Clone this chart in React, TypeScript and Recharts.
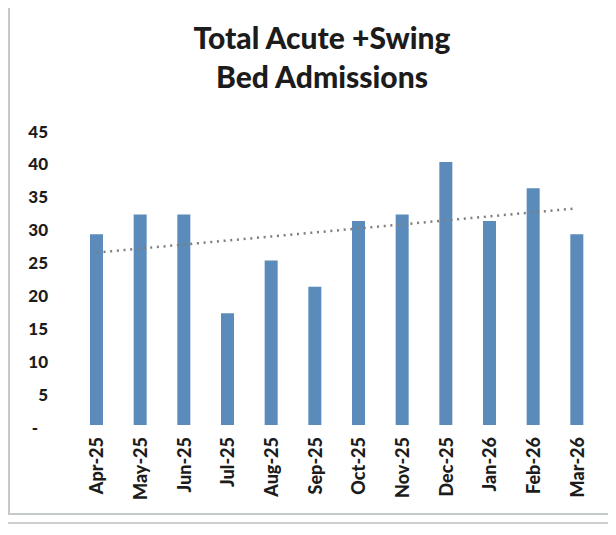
import { ComposedChart, Bar, Line, XAxis, YAxis } from "recharts";

const months = ["Apr-25", "May-25", "Jun-25", "Jul-25", "Aug-25", "Sep-25", "Oct-25", "Nov-25", "Dec-25", "Jan-26", "Feb-26", "Mar-26"];
const admissions = [29, 32, 32, 17, 25, 21, 31, 32, 40, 31, 36, 29];
const yTicks = [0, 5, 10, 15, 20, 25, 30, 35, 40, 45];

// linear trendline fitted to the admissions (like Excel's trendline)
const n = admissions.length;
const meanX = (n - 1) / 2;
const meanY = admissions.reduce((a, b) => a + b, 0) / n;
let sxy = 0;
let sxx = 0;
admissions.forEach((v, i) => {
  sxy += (i - meanX) * (v - meanY);
  sxx += (i - meanX) * (i - meanX);
});
const slope = sxy / sxx;

const data = months.map((m, i) => ({
  month: m,
  value: admissions[i],
  trend: meanY + slope * (i - meanX),
}));

const FONT = "Lato, 'Open Sans', sans-serif";

function YTick({ y, payload }: any) {
  const zero = payload.value === 0;
  return (
    <text
      x={zero ? 38 : 48}
      y={y + 2}
      textAnchor="end"
      dominantBaseline="central"
      fontFamily={FONT}
      fontWeight={900}
      fontSize={17}
      fill="#1c1c1c"
    >
      {zero ? "-" : payload.value}
    </text>
  );
}

function XTick({ x, y, payload }: any) {
  return (
    <g transform={`translate(${x},${y})`}>
      <text
        transform="rotate(-90)"
        x={-12}
        dy="0.36em"
        textAnchor="end"
        fontFamily={FONT}
        fontWeight={900}
        fontSize={18}
        fill="#1c1c1c"
      >
        {payload.value}
      </text>
    </g>
  );
}

export default function App() {
  return (
    <div style={{ position: "relative", width: 616, height: 535, marginTop: -8, marginLeft: -8, background: "#fff", overflow: "hidden" }}>
      <div style={{ position: "absolute", left: 8, top: 2, width: 640, height: 510, borderLeft: "2px solid #c4c9c9", borderTop: "1px solid #e2e4e4", borderBottom: "2px solid #c4c9c9" }} />
      <div style={{ position: "absolute", left: 0, top: 522, width: 616, height: 0, borderTop: "2px solid #ccd0d0" }} />
      <div
        style={{
          position: "absolute",
          left: 0,
          top: 18,
          width: 644,
          textAlign: "center",
          fontFamily: FONT,
          fontWeight: 900,
          fontSize: 30,
          lineHeight: "39px",
          color: "#1c1c1c",
        }}
      >
        Total Acute +Swing
        <br />
        Bed Admissions
      </div>
      <div style={{ position: "absolute", left: 0, top: 0 }}>
        <ComposedChart width={616} height={535} data={data} margin={{ top: 129, right: 17, left: 0, bottom: 10 }}>
          <XAxis
            dataKey="month"
            axisLine={false}
            tickLine={false}
            tickSize={0}
            tickMargin={0}
            interval={0}
            height={100}
            tick={<XTick />}
          />
          <YAxis
            domain={[0, 45]}
            ticks={yTicks}
            axisLine={false}
            tickLine={false}
            width={75}
            tick={<YTick />}
          />
          <Bar dataKey="value" fill="#5a8bbb" barSize={13} isAnimationActive={false} />
          <Line
            dataKey="trend"
            type="linear"
            stroke="#7e7e7e"
            strokeWidth={2.5}
            strokeDasharray="2 4.7"
            dot={false}
            activeDot={false}
            isAnimationActive={false}
          />
        </ComposedChart>
      </div>
    </div>
  );
}
